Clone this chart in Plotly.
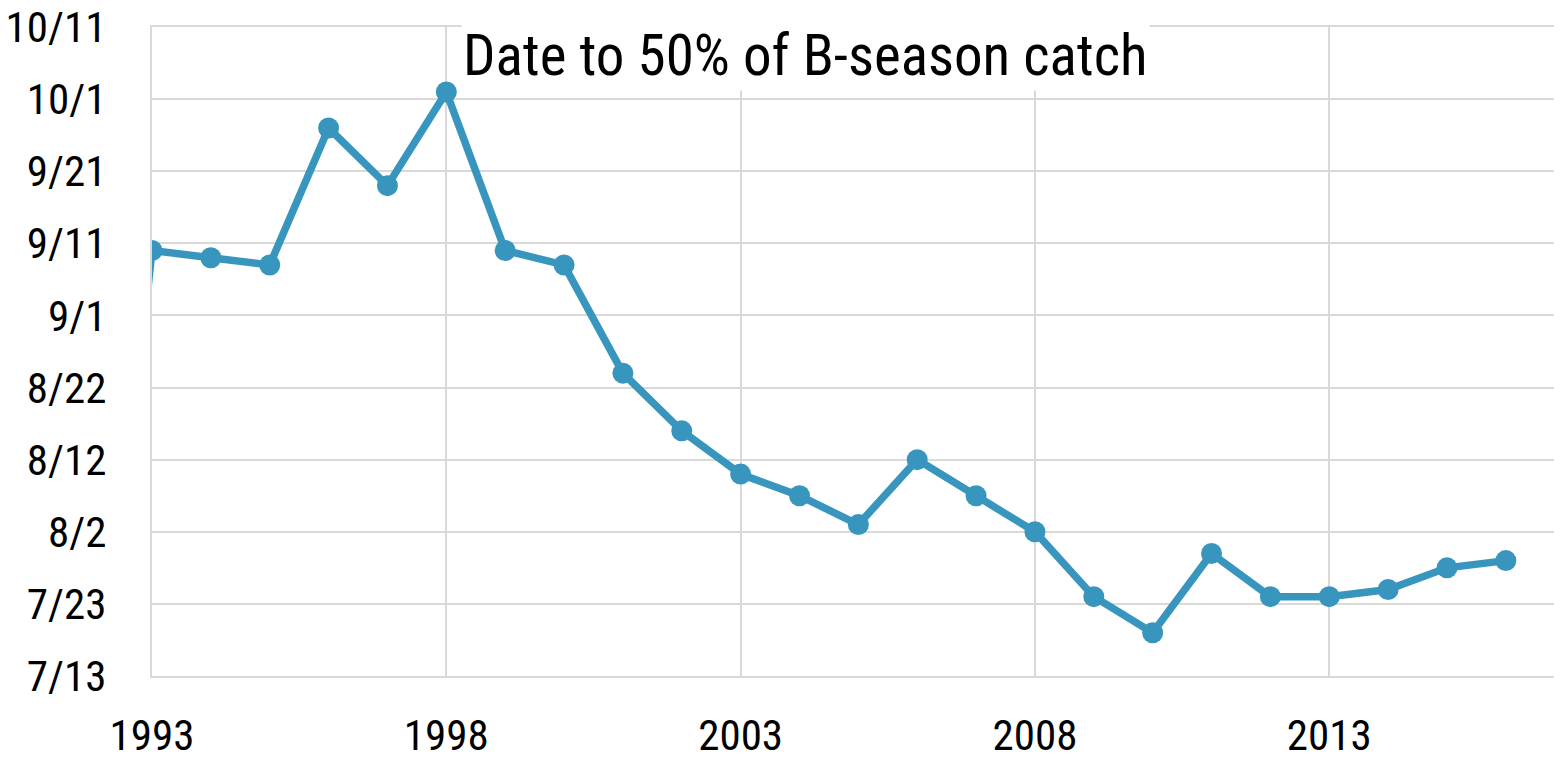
import plotly.graph_objects as go

years = [1992, 1993, 1994, 1995, 1996, 1997, 1998, 1999, 2000, 2001, 2002, 2003, 2004,
         2005, 2006, 2007, 2008, 2009, 2010, 2011, 2012, 2013, 2014, 2015, 2016]
# Date (month-day, placed in a reference year) when 50% of B-season catch was reached
dates_50pct = ["2001-06-25", "2001-09-10", "2001-09-09", "2001-09-08", "2001-09-27", "2001-09-19",
               "2001-10-02", "2001-09-10", "2001-09-08", "2001-08-24", "2001-08-16",
               "2001-08-10", "2001-08-07", "2001-08-03", "2001-08-12", "2001-08-07",
               "2001-08-02", "2001-07-24", "2001-07-19", "2001-07-30", "2001-07-24",
               "2001-07-24", "2001-07-25", "2001-07-28", "2001-07-29"]
x_ticks = [1993, 1998, 2003, 2008, 2013]
title_text = "Date to 50% of B-season catch"

FONT = "Roboto Condensed, DejaVu Sans Condensed"
LINE_COLOR = "#3896BE"
GRID = "#D9D9D9"

fig = go.Figure()
fig.add_trace(go.Scatter(
    x=years, y=dates_50pct, mode="lines+markers",
    line=dict(color=LINE_COLOR, width=7.5),
    marker=dict(color=LINE_COLOR, size=21),
    showlegend=False,
))

fig.update_layout(
    width=1562, height=758,
    margin=dict(l=144, r=0, t=19, b=90),
    paper_bgcolor="white", plot_bgcolor="white",
    font=dict(family=FONT, size=43, color="black"),
    xaxis=dict(range=[1993, 2017.09], tickvals=x_ticks, ticktext=[str(v) for v in x_ticks],
               showgrid=True, gridcolor=GRID, gridwidth=2, zeroline=False, automargin=False,
               showline=True, mirror=True, linecolor=GRID, linewidth=2, ticks="", ticklen=0,
               ticklabelstandoff=20, ticklabeloverflow="allow",
               tickfont=dict(family=FONT, size=43, color="black")),
    yaxis=dict(type="date", range=["2001-07-13", "2001-10-11"], automargin=False,
               tick0="2001-07-13", dtick=864000000, tickformat="%-m/%-d",
               showgrid=True, gridcolor=GRID, gridwidth=2, zeroline=False,
               showline=True, linecolor=GRID, linewidth=2, ticks="", ticklen=0,
               ticklabelstandoff=35, ticklabeloverflow="allow",
               tickfont=dict(family=FONT, size=43, color="black")),
    annotations=[dict(text=title_text, xref="paper", yref="paper",
                      x=(805 - 152) / 1418, y=1 - (55 - 27) / 649,
                      xanchor="center", yanchor="middle", showarrow=False,
                      bgcolor="white", font=dict(family=FONT, size=57, color="black"))],
)

fig.write_html("out.html")
